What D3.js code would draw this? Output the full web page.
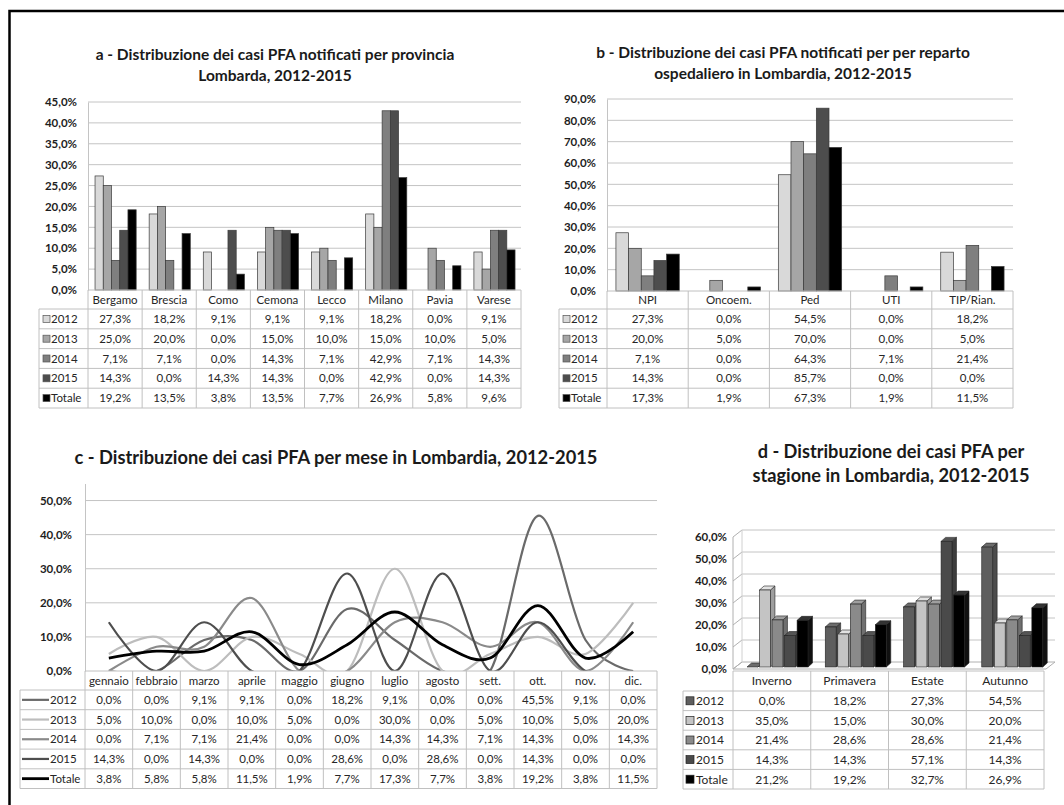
<!DOCTYPE html>
<html><head><meta charset="utf-8">
<script src="https://cdn.jsdelivr.net/npm/d3@7"></script>
<style>body{margin:0;background:#fff}svg text{font-family:Lato,"Open Sans",sans-serif}</style>
</head><body><script>
// ---------------- DATA ----------------
const seriesNames = ["2012","2013","2014","2015","Totale"];

const provinces = ["Bergamo","Brescia","Como","Cemona","Lecco","Milano","Pavia","Varese"];
const prov2012 = [27.3,18.2,9.1,9.1,9.1,18.2,0.0,9.1];
const prov2013 = [25.0,20.0,0.0,15.0,10.0,15.0,10.0,5.0];
const prov2014 = [7.1,7.1,0.0,14.3,7.1,42.9,7.1,14.3];
const prov2015 = [14.3,0.0,14.3,14.3,0.0,42.9,0.0,14.3];
const provTot  = [19.2,13.5,3.8,13.5,7.7,26.9,5.8,9.6];

const reparti = ["NPI","Oncoem.","Ped","UTI","TIP/Rian."];
const rep2012 = [27.3,0.0,54.5,0.0,18.2];
const rep2013 = [20.0,5.0,70.0,0.0,5.0];
const rep2014 = [7.1,0.0,64.3,7.1,21.4];
const rep2015 = [14.3,0.0,85.7,0.0,0.0];
const repTot  = [17.3,1.9,67.3,1.9,11.5];

const months = ["gennaio","febbraio","marzo","aprile","maggio","giugno","luglio","agosto","sett.","ott.","nov.","dic."];
const mon2012 = [0.0,0.0,9.1,9.1,0.0,18.2,9.1,0.0,0.0,45.5,9.1,0.0];
const mon2013 = [5.0,10.0,0.0,10.0,5.0,0.0,30.0,0.0,5.0,10.0,5.0,20.0];
const mon2014 = [0.0,7.1,7.1,21.4,0.0,0.0,14.3,14.3,7.1,14.3,0.0,14.3];
const mon2015 = [14.3,0.0,14.3,0.0,0.0,28.6,0.0,28.6,0.0,14.3,0.0,0.0];
const monTot  = [3.8,5.8,5.8,11.5,1.9,7.7,17.3,7.7,3.8,19.2,3.8,11.5];

const seasons = ["Inverno","Primavera","Estate","Autunno"];
const sea2012 = [0.0,18.2,27.3,54.5];
const sea2013 = [35.0,15.0,30.0,20.0];
const sea2014 = [21.4,28.6,28.6,21.4];
const sea2015 = [14.3,14.3,57.1,14.3];
const seaTot  = [21.2,19.2,32.7,26.9];

const ticksA = [0,5,10,15,20,25,30,35,40,45];
const ticksB = [0,10,20,30,40,50,60,70,80,90];
const ticksC = [0,10,20,30,40,50];
const ticksD = [0,10,20,30,40,50,60];

// ---------------- STYLE ----------------
const barColors  = ["#d9d9d9","#a6a6a6","#7f7f7f","#4d4d4d","#000000"];
const lineColors = ["#6a6a6a","#bdbdbd","#8a8a8a","#4e4e4e","#000000"];
const d3Colors   = ["#5e5e5e","#c4c4c4","#8a8a8a","#4a4a4a","#000000"];
const GRID = "#c4c4c4", TBL = "#c0c0c0", TXT = "#262626";

const svg = d3.select("body").append("svg").attr("width",1064).attr("height",805);
const loc = d3.formatLocale({decimal:",",thousands:".",grouping:[3],currency:["€",""]});
const f1 = loc.format(".1f");
const pct = v => f1(v) + "%";

// outer frame
svg.append("rect").attr("x",9.5).attr("y",11).attr("width",1200).attr("height",1000)
  .attr("fill","none").attr("stroke","#000").attr("stroke-width",2.5);

function title(lines, cx, y0, lh, size){
  const t = svg.append("text").attr("text-anchor","middle").attr("font-weight","bold")
    .attr("font-size",size).attr("fill","#1a1a1a");
  lines.forEach((l,i)=>t.append("tspan").attr("x",cx).attr("y",y0+i*lh).text(l));
}

function yAxis(scale, ticks, x, pad){
  const g = svg.append("g").attr("transform",`translate(${x},0)`)
    .call(d3.axisLeft(scale).tickValues(ticks).tickFormat(pct).tickSize(0).tickPadding(pad));
  g.select(".domain").attr("stroke",GRID);
  g.selectAll("text").attr("font-weight","bold").attr("font-size",11.5).attr("fill","#1e1e1e")
    .style("font-family","Lato, 'Open Sans', sans-serif");
  return g;
}

function drawTable(o){
  const g = svg.append("g").attr("font-size",o.fs||11.5).attr("fill",TXT);
  const xb = d3.scaleBand().domain(o.cats).range([o.x0,o.x1]);
  const n = o.values.length, hb = o.top+o.headerH, bottom = hb+o.rowH*n;
  const L=(x1,y1,x2,y2)=>g.append("line").attr("x1",x1).attr("y1",y1).attr("x2",x2).attr("y2",y2)
    .attr("stroke",TBL).attr("stroke-width",1);
  L(o.x0,o.top,o.x1,o.top);
  for(let r=0;r<=n;r++) L(o.legendX,hb+r*o.rowH,o.x1,hb+r*o.rowH);
  L(o.legendX,hb,o.legendX,bottom);
  L(o.x0,o.top,o.x0,bottom);
  o.cats.forEach(c=>L(xb(c)+xb.bandwidth(),o.top,xb(c)+xb.bandwidth(),bottom));
  o.cats.forEach(c=>g.append("text").attr("x",xb(c)+xb.bandwidth()/2).attr("y",o.top+o.headerH/2)
    .attr("dy","0.36em").attr("text-anchor","middle").text(c));
  o.values.forEach((arr,si)=>{
    const cy = hb+o.rowH*(si+0.5);
    o.key(g,si,cy);
    g.append("text").attr("x",o.legendX+o.labelDx).attr("y",cy).attr("dy","0.36em").text(seriesNames[si]);
    arr.forEach((v,ci)=>g.append("text").attr("x",xb(o.cats[ci])+xb.bandwidth()/2).attr("y",cy)
      .attr("dy","0.36em").attr("text-anchor","middle").text(pct(v)));
  });
}

function squareKey(colors, stroke){
  return (g,si,cy)=>g.append("rect").attr("x",0).attr("y",cy-3.5).attr("width",7).attr("height",7)
    .attr("fill",colors[si]).attr("stroke",stroke).attr("stroke-width",0.7);
}

function barPanel(o){
  const y = d3.scaleLinear().domain([0,o.max]).range([o.y0,o.yTop]);
  const x = d3.scaleBand().domain(o.cats).range([o.x0,o.x1]);
  const bw = x.bandwidth();
  const xi = d3.scaleBand().domain(seriesNames).range([bw*o.inL, bw*o.inR]);
  o.ticks.filter(t=>t>0).forEach(t=>svg.append("line").attr("x1",o.x0).attr("x2",o.x1)
    .attr("y1",y(t)).attr("y2",y(t)).attr("stroke",GRID));
  yAxis(y,o.ticks,o.x0,11);
  const g = svg.append("g");
  o.values.forEach((arr,si)=>arr.forEach((v,ci)=>{
    if(v<=0) return;
    g.append("rect").attr("x",x(o.cats[ci])+xi(seriesNames[si])).attr("y",y(v))
      .attr("width",xi.bandwidth()).attr("height",o.y0-y(v))
      .attr("fill",barColors[si]).attr("stroke","#3a3a3a").attr("stroke-width",0.7);
  }));
  const key = squareKey(barColors,"#555");
  drawTable({cats:o.cats, values:o.values, legendX:o.legendX, x0:o.x0, x1:o.x1, top:o.y0,
    headerH:o.headerH, rowH:19.8, labelDx:12,
    key:(g,si,cy)=>key(g,si,cy).attr("x",o.legendX+4)});
}

// ---------------- PANEL A ----------------
title(["a - Distribuzione dei casi PFA notificati per provincia","Lombarda, 2012-2015"],275,60,20.5,15.5);
barPanel({cats:provinces, values:[prov2012,prov2013,prov2014,prov2015,provTot], max:45, ticks:ticksA,
  x0:88, x1:521, y0:290, yTop:102, inL:0.13, inR:0.89, legendX:39, headerH:19});

// ---------------- PANEL B ----------------
title(["b - Distribuzione dei casi PFA notificati per per reparto","ospedaliero in Lombardia, 2012-2015"],783,58,20.5,15.5);
barPanel({cats:reparti, values:[rep2012,rep2013,rep2014,rep2015,repTot], max:90, ticks:ticksB,
  x0:607, x1:1013, y0:291, yTop:99, inL:0.11, inR:0.89, legendX:559, headerH:18});

// ---------------- PANEL C ----------------
title(["c - Distribuzione dei casi PFA per mese in Lombardia, 2012-2015"],336,464,0,18.3);
(function(){
  const x0=85, x1=657, y0=671;
  const y = d3.scaleLinear().domain([0,55]).range([y0,483.5]);
  const x = d3.scaleBand().domain(months).range([x0,x1]);
  ticksC.filter(t=>t>0).forEach(t=>svg.append("line").attr("x1",x0).attr("x2",x1)
    .attr("y1",y(t)).attr("y2",y(t)).attr("stroke",GRID));
  yAxis(y,ticksC,x0,13);
  svg.append("clipPath").attr("id","clipC").append("rect").attr("x",x0).attr("y",470).attr("width",x1-x0).attr("height",y0-470);
  const line = d3.line().x((d,i)=>x(months[i])+x.bandwidth()/2).y(d=>y(d)).curve(d3.curveCardinal.tension(0));
  const g = svg.append("g").attr("clip-path","url(#clipC)");
  [mon2012,mon2013,mon2014,mon2015,monTot].forEach((arr,si)=>g.append("path").attr("d",line(arr))
    .attr("fill","none").attr("stroke",lineColors[si]).attr("stroke-width",si===4?2.8:2.2));
  drawTable({cats:months, values:[mon2012,mon2013,mon2014,mon2015,monTot], legendX:20, x0, x1, top:y0,
    headerH:19, rowH:19.7, labelDx:30, fs:11.5,
    key:(g,si,cy)=>g.append("line").attr("x1",22).attr("x2",49).attr("y1",cy).attr("y2",cy)
      .attr("stroke",lineColors[si]).attr("stroke-width",si===4?2.8:2.2)});
})();

// ---------------- PANEL D (3D columns) ----------------
title(["d - Distribuzione dei casi PFA per","stagione in Lombardia, 2012-2015"],891,458,24,18.2);
(function(){
  const x0=733, x1=1046, yF=669, DX=9, DY=-7;
  const y = d3.scaleLinear().domain([0,60]).range([yF,yF-132]);
  const x = d3.scaleBand().domain(seasons).range([x0,x1]);
  const xi = d3.scaleBand().domain(seriesNames).range([13,74]).paddingInner(0.13);
  const g = svg.append("g");
  // floor
  g.append("polygon").attr("points",[[x0,yF],[x1,yF],[x1+DX,yF+DY],[x0+DX,yF+DY]].join(" "))
    .attr("fill","#fff").attr("stroke","#b0b0b0");
  // walls & gridlines
  ticksD.forEach(t=>{
    const yy=y(t);
    g.append("line").attr("x1",x0).attr("y1",yy).attr("x2",x0+DX).attr("y2",yy+DY).attr("stroke","#b0b0b0");
    if(t>0) g.append("line").attr("x1",x0+DX).attr("y1",yy+DY).attr("x2",x1+DX).attr("y2",yy+DY).attr("stroke",GRID);
  });
  g.append("line").attr("x1",x0).attr("y1",yF).attr("x2",x0).attr("y2",y(60)).attr("stroke","#b0b0b0");
  g.append("line").attr("x1",x0+DX).attr("y1",yF+DY).attr("x2",x0+DX).attr("y2",y(60)+DY).attr("stroke","#d0d0d0");
  yAxis(y,ticksD,x0,6).select(".domain").remove();
  // bars
  const bdx=4.5, bdy=-4, ox=1, oy=-2;
  const vals=[sea2012,sea2013,sea2014,sea2015,seaTot];
  seasons.forEach((s,ci)=>seriesNames.forEach((sn,si)=>{
    const v=vals[si][ci];
    const bx=x(s)+xi(sn)+ox, w=xi.bandwidth(), by0=yF+oy, by=y(v)+oy;
    const c=d3.color(d3Colors[si]);
    const side=si===4?"#111":c.darker(0.6), top=si===4?"#333":c.brighter(0.4);
    const st="#222";
    g.append("polygon").attr("points",[[bx+w,by0],[bx+w+bdx,by0+bdy],[bx+w+bdx,by+bdy],[bx+w,by]].join(" "))
      .attr("fill",side).attr("stroke",st).attr("stroke-width",0.6);
    g.append("polygon").attr("points",[[bx,by],[bx+w,by],[bx+w+bdx,by+bdy],[bx+bdx,by+bdy]].join(" "))
      .attr("fill",top).attr("stroke",st).attr("stroke-width",0.6);
    g.append("rect").attr("x",bx).attr("y",by).attr("width",w).attr("height",Math.max(0,by0-by))
      .attr("fill",d3Colors[si]).attr("stroke",st).attr("stroke-width",0.6);
  }));
  drawTable({cats:seasons, values:vals, legendX:683, x0, x1:1044, top:671, headerH:20, rowH:19.6, labelDx:13, fs:12,
    key:(g,si,cy)=>g.append("rect").attr("x",686).attr("y",cy-4).attr("width",8).attr("height",8)
      .attr("fill",d3Colors[si]).attr("stroke","#222").attr("stroke-width",0.7)});
})();
</script></body></html>
